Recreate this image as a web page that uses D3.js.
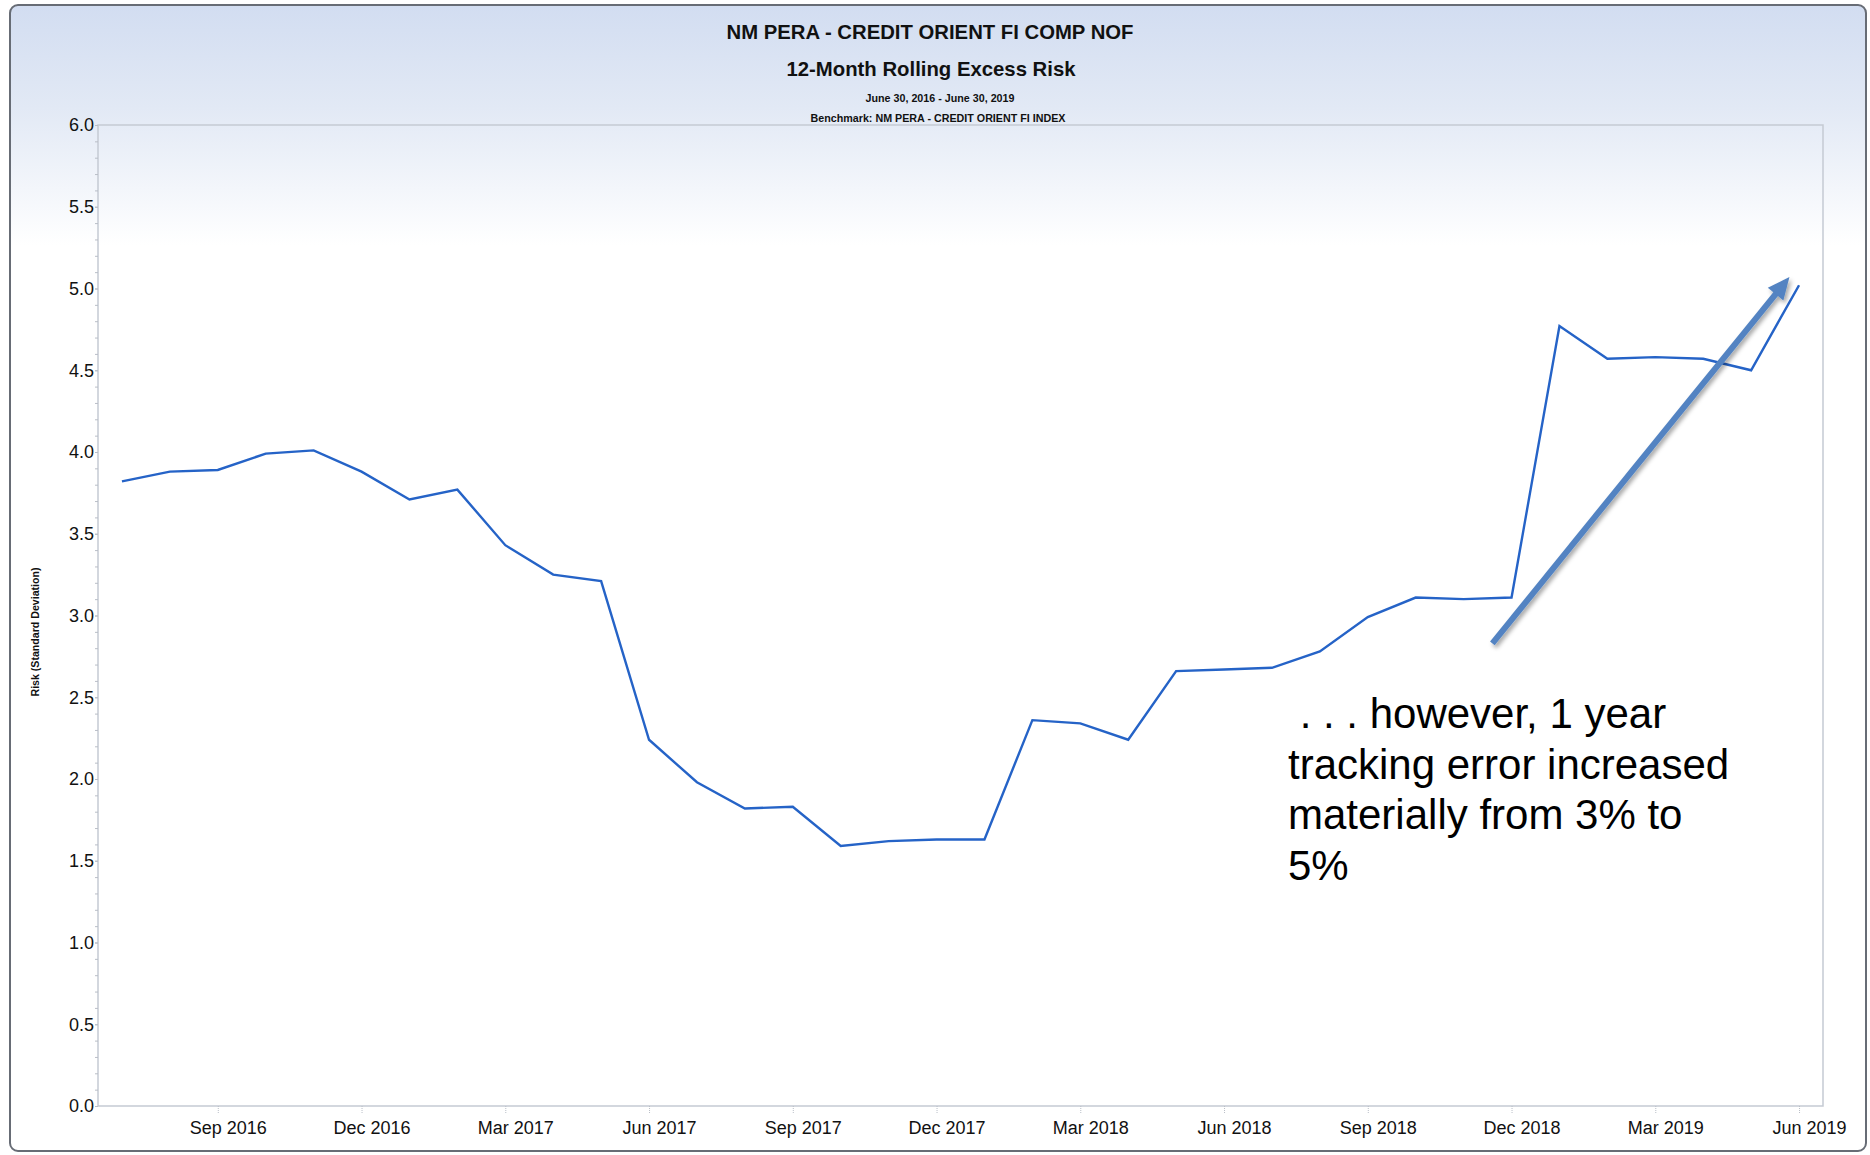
<!DOCTYPE html>
<meta charset="utf-8">
<html>
<head>
    <style>
        html, body {
            margin: 0;
            padding: 0;
            background: #fff;
        }
        body {
            font-family: 'Liberation Sans', Arial, sans-serif;
        }
        .axis text {
            font-size: 18px;
            fill: #111;
        }
        .ytick line {
            stroke: #b9bec7;
        }
        .xtick line {
            stroke: #b9bec7;
            stroke-dasharray: 1,1;
        }
    </style>
</head>

<body>
    <svg id="chart"></svg>

    <script src="https://cdn.jsdelivr.net/npm/d3@7/dist/d3.min.js"></script>
    <script>

        // monthly points, Jul 2016 .. Jun 2019
        var months = ["Jul 2016", "Aug 2016", "Sep 2016", "Oct 2016", "Nov 2016", "Dec 2016",
            "Jan 2017", "Feb 2017", "Mar 2017", "Apr 2017", "May 2017", "Jun 2017",
            "Jul 2017", "Aug 2017", "Sep 2017", "Oct 2017", "Nov 2017", "Dec 2017",
            "Jan 2018", "Feb 2018", "Mar 2018", "Apr 2018", "May 2018", "Jun 2018",
            "Jul 2018", "Aug 2018", "Sep 2018", "Oct 2018", "Nov 2018", "Dec 2018",
            "Jan 2019", "Feb 2019", "Mar 2019", "Apr 2019", "May 2019", "Jun 2019"];

        var excessRisk = [3.82, 3.88, 3.89, 3.99, 4.01, 3.88,
            3.71, 3.77, 3.43, 3.25, 3.21, 2.24,
            1.98, 1.82, 1.83, 1.59, 1.62, 1.63,
            1.63, 2.36, 2.34, 2.24, 2.66, 2.67,
            2.68, 2.78, 2.99, 3.11, 3.10, 3.11,
            4.77, 4.57, 4.58, 4.57, 4.50, 5.02];

        var xTickLabels = ["Sep 2016", "Dec 2016", "Mar 2017", "Jun 2017", "Sep 2017", "Dec 2017",
            "Mar 2018", "Jun 2018", "Sep 2018", "Dec 2018", "Mar 2019", "Jun 2019"];

        var yTickLabels = [0, 0.5, 1, 1.5, 2, 2.5, 3, 3.5, 4, 4.5, 5, 5.5, 6];

        var titles = ["NM PERA - CREDIT ORIENT FI COMP NOF", "12-Month Rolling Excess Risk",
            "June 30, 2016 - June 30, 2019", "Benchmark: NM PERA - CREDIT ORIENT FI INDEX"];

        var note = [" . . . however, 1 year", "tracking error increased", "materially from 3% to", "5%"];

        // hand drawn arrow, in (month index, risk) units
        var arrowFrom = [28.6, 2.83];
        var arrowTo = [34.8, 5.07];

        var W = 1870, H = 1155;
        var plot = { left: 98, top: 125, right: 1823, bottom: 1106 };

        var svg = d3.select("#chart")
            .attr("width", W)
            .attr("height", H);

        var defs = svg.append("defs");
        var grad = defs.append("linearGradient")
            .attr("id", "bg")
            .attr("x1", 0).attr("y1", 0).attr("x2", 0).attr("y2", 1);
        grad.append("stop").attr("offset", "0%").attr("stop-color", "#d2ddf1");
        grad.append("stop").attr("offset", "9%").attr("stop-color", "#e2e9f5");
        grad.append("stop").attr("offset", "21%").attr("stop-color", "#ffffff");
        grad.append("stop").attr("offset", "100%").attr("stop-color", "#ffffff");

        var shadow = defs.append("filter").attr("id", "shadow")
            .attr("x", "-20%").attr("y", "-20%").attr("width", "140%").attr("height", "140%");
        shadow.append("feDropShadow")
            .attr("dx", 2).attr("dy", 3).attr("stdDeviation", 2)
            .attr("flood-color", "#000").attr("flood-opacity", 0.35);

        // outer frame
        svg.append("rect")
            .attr("x", 10).attr("y", 5)
            .attr("width", 1856).attr("height", 1146)
            .attr("rx", 8).attr("ry", 8)
            .attr("fill", "url(#bg)")
            .attr("stroke", "#676c75")
            .attr("stroke-width", 2);

        // plot frame
        svg.append("rect")
            .attr("x", plot.left).attr("y", plot.top)
            .attr("width", plot.right - plot.left)
            .attr("height", plot.bottom - plot.top)
            .attr("fill", "none")
            .attr("stroke", "#c5cad3")
            .attr("stroke-width", 1.5);

        // month index scale (half a month of room on each side)
        var xi = d3.scaleLinear()
            .domain([-0.5, months.length - 0.5])
            .range([plot.left, plot.right]);
        var x = function (m) { return xi(months.indexOf(m)); };

        var y = d3.scaleLinear()
            .domain([0, 6])
            .range([plot.bottom, plot.top]);

        // minor y ticks
        svg.append("g")
            .attr("class", "axis ytick")
            .attr("transform", "translate(" + plot.left + ",0)")
            .call(d3.axisLeft(y).tickValues(y.ticks(60)).tickSize(3).tickFormat(""))
            .call(function (g) { g.select(".domain").remove(); });

        // major y ticks + labels
        svg.append("g")
            .attr("class", "axis ytick")
            .attr("transform", "translate(" + plot.left + ",0)")
            .call(d3.axisLeft(y).tickValues(yTickLabels).tickSize(3).tickPadding(1)
                .tickFormat(d3.format(".1f")))
            .call(function (g) { g.select(".domain").remove(); });

        // x ticks
        var xAxisScale = d3.scalePoint().domain(months).range([xi(0), xi(months.length - 1)]);
        svg.append("g")
            .attr("class", "axis xtick")
            .attr("transform", "translate(0," + plot.bottom + ")")
            .call(d3.axisBottom(xAxisScale).tickValues(xTickLabels).tickSize(7).tickPadding(8))
            .call(function (g) {
                g.select(".domain").remove();
                g.selectAll("text").attr("dx", 10);
            });

        // series
        var line = d3.line()
            .x(function (d, i) { return xi(i); })
            .y(function (d) { return y(d); });

        svg.append("path")
            .datum(excessRisk)
            .attr("d", line)
            .attr("fill", "none")
            .attr("stroke", "#2563c7")
            .attr("stroke-width", 2.4)
            .attr("stroke-linejoin", "miter");

        // titles
        var titleStyle = [
            { size: 20.5, y: 39, cx: 930, len: 407 },
            { size: 20.5, y: 76, cx: 931, len: 289 },
            { size: 10.5, y: 102, cx: 940, len: 149 },
            { size: 10.5, y: 122, cx: 938, len: 255 }
        ];
        titles.forEach(function (t, i) {
            var s = titleStyle[i];
            svg.append("text")
                .attr("x", s.cx)
                .attr("y", s.y)
                .attr("text-anchor", "middle")
                .attr("font-weight", "bold")
                .attr("font-size", s.size)
                .attr("textLength", s.len)
                .attr("lengthAdjust", "spacingAndGlyphs")
                .attr("fill", "#111")
                .text(t);
        });

        // y axis title
        svg.append("text")
            .attr("transform", "translate(39,632) rotate(-90)")
            .attr("text-anchor", "middle")
            .attr("font-weight", "bold")
            .attr("font-size", 10.5)
            .attr("textLength", 129)
            .attr("lengthAdjust", "spacingAndGlyphs")
            .attr("fill", "#111")
            .text("Risk (Standard Deviation)");

        // arrow: shaft + head, with a soft shadow
        var ax1 = xi(arrowFrom[0]), ay1 = y(arrowFrom[1]);
        var ax2 = xi(arrowTo[0]), ay2 = y(arrowTo[1]);
        var ang = Math.atan2(ay2 - ay1, ax2 - ax1);
        var headLen = 22, headHalf = 10;
        var bx = ax2 - headLen * Math.cos(ang), by = ay2 - headLen * Math.sin(ang);

        var arrow = svg.append("g").attr("filter", "url(#shadow)");
        arrow.append("line")
            .attr("x1", ax1).attr("y1", ay1)
            .attr("x2", bx + 2 * Math.cos(ang)).attr("y2", by + 2 * Math.sin(ang))
            .attr("stroke", "#5283c2")
            .attr("stroke-width", 6);
        arrow.append("path")
            .attr("d", "M" + ax2 + "," + ay2 +
                "L" + (bx + headHalf * Math.sin(ang)) + "," + (by - headHalf * Math.cos(ang)) +
                "L" + (bx - headHalf * Math.sin(ang)) + "," + (by + headHalf * Math.cos(ang)) + "Z")
            .attr("fill", "#5283c2");

        // annotation
        var noteText = svg.append("text")
            .attr("x", 1288)
            .attr("y", 728)
            .attr("font-size", 42)
            .attr("fill", "#000")
            .style("white-space", "pre");
        note.forEach(function (t, i) {
            noteText.append("tspan")
                .attr("x", 1288)
                .attr("dy", i == 0 ? 0 : 50.7)
                .text(t);
        });

    </script>
</body>
</html>
